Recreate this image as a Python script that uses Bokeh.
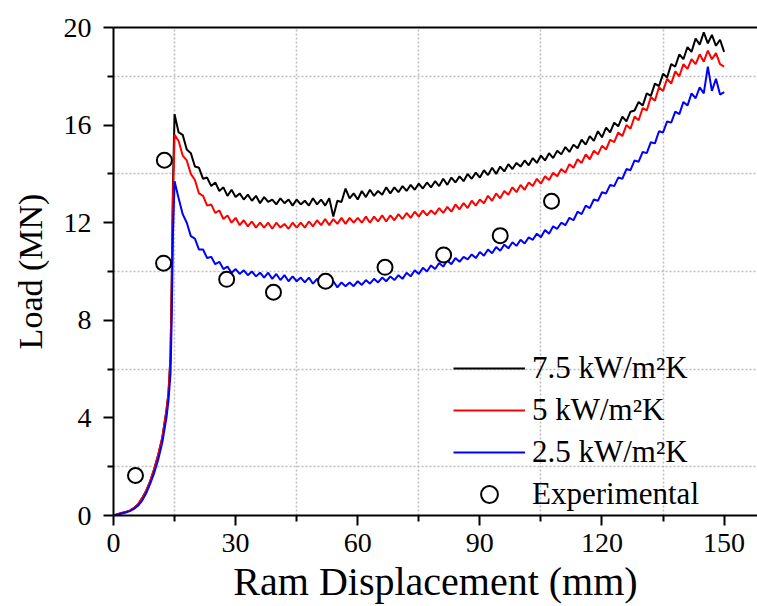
from bokeh.plotting import figure
from bokeh.models import FixedTicker, LinearAxis, Legend, LegendItem, Range1d
from bokeh.embed import file_html
from bokeh.resources import INLINE

# ---- data ----
rise_x = [0, 1, 2, 3, 4, 5, 6, 7, 8, 9, 10, 11, 12, 13, 13.5, 14, 14.3, 14.6]
plateau_x = list(range(15, 151))

black_rise = [0, 0.05, 0.1, 0.15, 0.2, 0.3, 0.45, 0.7, 1.0, 1.4, 1.9, 2.5, 3.2, 4.3, 5.0, 6.5, 9.5, 13.5]
red_rise = [0, 0.05, 0.1, 0.15, 0.2, 0.3, 0.45, 0.7, 1.0, 1.4, 1.9, 2.5, 3.2, 4.3, 5.0, 6.5, 9.5, 13.0]
blue_rise = [0, 0.03, 0.08, 0.12, 0.18, 0.27, 0.4, 0.6, 0.9, 1.3, 1.75, 2.3, 3.0, 4.0, 4.7, 5.8, 8.0, 11.5]

black_load = [
    16.45, 15.7, 15.6, 15.0, 14.85, 14.3, 14.25, 13.8, 13.85, 13.5,
    13.65, 13.3, 13.45, 13.1, 13.35, 13.05, 13.2, 12.95, 13.15, 12.9,
    13.1, 12.8, 13.05, 12.85, 12.95, 12.75, 13.0, 12.8, 12.95, 12.7,
    12.95, 12.75, 12.9, 12.7, 13.0, 12.75, 12.95, 12.7, 13.0, 12.25,
    12.9, 12.85, 13.4, 13.0, 13.2, 12.95, 13.3, 13.05, 13.35, 13.1,
    13.3, 13.15, 13.45, 13.2, 13.45, 13.25, 13.5, 13.3, 13.55, 13.35,
    13.6, 13.4, 13.65, 13.45, 13.7, 13.5, 13.8, 13.55, 13.85, 13.65,
    13.9, 13.7, 14.0, 13.8, 14.05, 13.85, 14.15, 13.95, 14.25, 14.0,
    14.3, 14.1, 14.4, 14.2, 14.45, 14.3, 14.55, 14.35, 14.65, 14.45,
    14.75, 14.55, 14.85, 14.65, 14.95, 14.8, 15.1, 14.9, 15.2, 15.05,
    15.4, 15.2, 15.55, 15.35, 15.75, 15.5, 15.9, 15.7, 16.1, 15.95,
    16.35, 16.15, 16.55, 16.6, 16.95, 16.8, 17.3, 17.2, 17.7, 17.6,
    18.1, 17.95, 18.5, 18.4, 18.9, 18.7, 19.2, 19.0, 19.55, 19.3,
    19.8, 19.35, 19.7, 19.25, 19.5, 19.0,
]
red_load = [
    15.6, 15.35, 14.75, 14.55, 14.0, 13.75, 13.2, 13.1, 12.7, 12.75,
    12.4, 12.5, 12.15, 12.3, 12.0, 12.2, 11.9, 12.1, 11.85, 12.05,
    11.8, 12.0, 11.8, 12.0, 11.75, 12.0, 11.8, 11.95, 11.75, 12.0,
    11.8, 12.0, 11.8, 12.05, 11.85, 12.1, 11.9, 12.15, 11.9, 12.15,
    11.95, 12.2, 11.95, 12.2, 12.0, 12.2, 12.0, 12.25, 12.0, 12.25,
    12.05, 12.3, 12.05, 12.3, 12.1, 12.35, 12.15, 12.4, 12.2, 12.45,
    12.25, 12.5, 12.3, 12.5, 12.35, 12.6, 12.4, 12.65, 12.45, 12.75,
    12.55, 12.8, 12.6, 12.9, 12.7, 12.95, 12.8, 13.1, 12.9, 13.2,
    13.0, 13.3, 13.15, 13.45, 13.25, 13.55, 13.35, 13.65, 13.5, 13.8,
    13.6, 13.9, 13.75, 14.05, 13.9, 14.2, 14.05, 14.4, 14.25, 14.6,
    14.45, 14.8, 14.6, 14.95, 14.8, 15.15, 15.0, 15.4, 15.3, 15.7,
    15.55, 16.0, 15.85, 16.35, 16.2, 16.7, 16.6, 17.15, 17.0, 17.55,
    17.4, 17.9, 17.7, 18.2, 18.0, 18.5, 18.3, 18.7, 18.5, 18.9,
    18.6, 19.05, 18.7, 18.95, 18.5, 18.4,
]
blue_load = [
    13.7, 13.0, 12.35, 12.0, 11.45, 11.35, 10.9, 10.9, 10.55, 10.6,
    10.3, 10.4, 10.1, 10.2, 9.95, 10.1, 9.9, 10.05, 9.85, 10.0,
    9.8, 9.95, 9.75, 9.95, 9.7, 9.9, 9.65, 9.85, 9.6, 9.8,
    9.6, 9.75, 9.55, 9.75, 9.5, 9.7, 9.45, 9.65, 9.4, 9.6,
    9.35, 9.55, 9.4, 9.55, 9.4, 9.6, 9.45, 9.65, 9.5, 9.7,
    9.55, 9.75, 9.6, 9.8, 9.65, 9.85, 9.7, 9.95, 9.8, 10.05,
    9.9, 10.15, 10.0, 10.25, 10.1, 10.35, 10.2, 10.45, 10.3, 10.55,
    10.4, 10.6, 10.5, 10.7, 10.55, 10.8, 10.65, 10.9, 10.75, 11.0,
    10.85, 11.1, 10.95, 11.2, 11.05, 11.3, 11.15, 11.4, 11.3, 11.55,
    11.4, 11.7, 11.55, 11.85, 11.75, 12.0, 11.9, 12.2, 12.1, 12.45,
    12.35, 12.7, 12.6, 12.95, 12.9, 13.25, 13.2, 13.55, 13.5, 13.85,
    13.8, 14.2, 14.15, 14.55, 14.5, 14.9, 14.85, 15.3, 15.25, 15.75,
    15.7, 16.15, 16.1, 16.55, 16.45, 16.95, 16.8, 17.3, 17.1, 17.55,
    17.3, 18.4, 17.4, 17.9, 17.25, 17.35,
]

exp_x = [5.4, 12.5, 12.3, 27.8, 39.3, 52.1, 66.7, 81.1, 95.0, 107.6]
exp_y = [1.64, 14.56, 10.34, 9.68, 9.15, 9.6, 10.17, 10.68, 11.47, 12.88]

series_labels = ["7.5 kW/m\u00b2K", "5 kW/m\u00b2K", "2.5 kW/m\u00b2K", "Experimental"]

x_major = [0, 30, 60, 90, 120, 150]
x_minor = [15, 45, 75, 105, 135]
y_major = [0, 4, 8, 12, 16, 20]
y_minor = [2, 6, 10, 14, 18]

disp = rise_x + plateau_x
black = black_rise + black_load
red = red_rise + red_load
blue = blue_rise + blue_load

FONT = "Liberation Serif"

p = figure(
    width=757, height=606,
    output_backend="svg", toolbar_location=None,
    x_range=Range1d(0, 158.2), y_range=Range1d(0, 20),
    min_border_left=113, min_border_right=0, min_border_top=27, min_border_bottom=91,
)
p.outline_line_color = None
p.background_fill_color = "white"
p.border_fill_color = "white"

# grid on minor positions, dotted
p.xgrid.ticker = FixedTicker(ticks=x_minor)
p.ygrid.ticker = FixedTicker(ticks=y_minor)
for g in (p.xgrid, p.ygrid):
    g.grid_line_color = "#bdbdbd"
    g.grid_line_dash = "2 2"
    g.grid_line_width = 1.5

p.xaxis.ticker = FixedTicker(ticks=x_major, minor_ticks=x_minor)
p.yaxis.ticker = FixedTicker(ticks=y_major, minor_ticks=y_minor)
p.xaxis.axis_label = "Ram Displacement (mm)"
p.yaxis.axis_label = "Load (MN)"
for ax in (p.xaxis, p.yaxis):
    ax.axis_line_width = 2
    ax.axis_line_color = "black"
    ax.major_tick_line_width = 2
    ax.minor_tick_line_width = 2
    ax.major_tick_out = 10
    ax.major_tick_in = 0
    ax.minor_tick_out = 6
    ax.minor_tick_in = 0
    ax.major_label_text_font = FONT
    ax.major_label_text_font_size = "28px"
    ax.major_label_text_color = "black"
    ax.axis_label_text_font = FONT
    ax.axis_label_text_font_style = "normal"
    ax.axis_label_text_color = "black"
p.xaxis.axis_label_text_font_size = "40px"
p.yaxis.axis_label_text_font_size = "34px"
p.xaxis.major_label_standoff = 8
p.yaxis.major_label_standoff = 12
p.xaxis.axis_label_standoff = 4
p.yaxis.axis_label_standoff = 12

top_axis = LinearAxis(ticker=FixedTicker(ticks=[]), axis_line_width=2,
                      major_tick_line_color=None, minor_tick_line_color=None,
                      major_label_text_font_size="0px")
p.add_layout(top_axis, "above")

r_black = p.line(disp, black, line_color="black", line_width=2)
r_red = p.line(disp, red, line_color="#ff0000", line_width=2)
r_blue = p.line(disp, blue, line_color="#0000ff", line_width=2)
r_exp = p.scatter(exp_x, exp_y, marker="circle", size=15, fill_color="white",
                  line_color="black", line_width=2)

legend = Legend(
    items=[LegendItem(label=series_labels[0], renderers=[r_black]),
           LegendItem(label=series_labels[1], renderers=[r_red]),
           LegendItem(label=series_labels[2], renderers=[r_blue]),
           LegendItem(label=series_labels[3], renderers=[r_exp])],
    location=(340, 0),
    glyph_width=72, glyph_height=42, label_height=42, spacing=0,
    label_standoff=7, padding=0, margin=0,
    label_text_font=FONT, label_text_font_size="31px", label_text_color="black",
    background_fill_alpha=0, border_line_color=None,
)
p.add_layout(legend)

open("out.html", "w").write(file_html(p, INLINE))
